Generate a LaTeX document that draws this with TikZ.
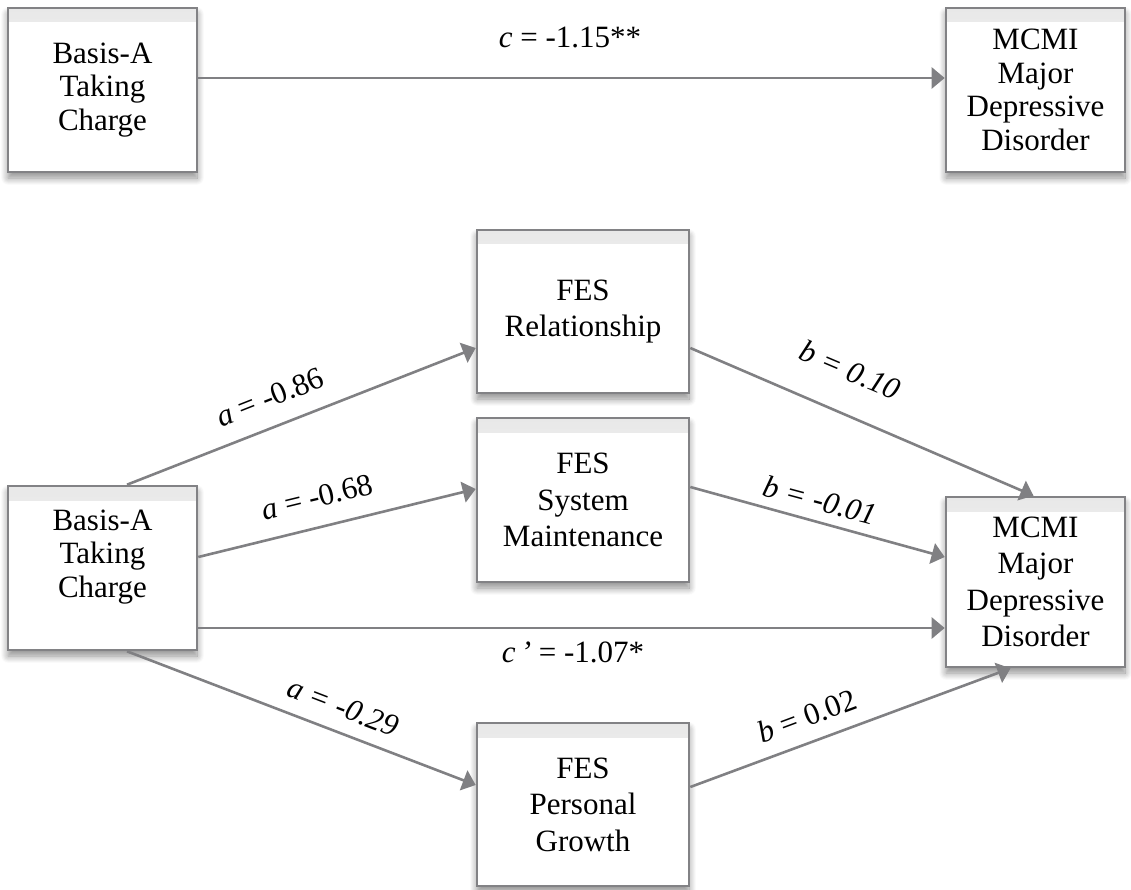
\documentclass[tikz,border=0pt]{standalone}
\usepackage{fontspec}
\setmainfont{Liberation Serif}
\usetikzlibrary{arrows.meta,shadows.blur}
\definecolor{boxgray}{RGB}{130,130,133}
\definecolor{arrgray}{RGB}{128,128,131}
\begin{document}
\begin{tikzpicture}[x=1pt,y=-1pt,
  fbox/.style={draw=boxgray, line width=2.6pt, fill=white, align=center,
    blur shadow={shadow xshift=0pt, shadow yshift=-6pt, shadow blur radius=7pt, shadow opacity=45, shadow blur steps=10},
    path picture={\fill[top color=black!9, bottom color=white]
      (path picture bounding box.north west) rectangle ([yshift=-14pt]path picture bounding box.north east);}},
  topfont/.style={font=\fontsize{31}{33.5}\selectfont},
  lowfont/.style={font=\fontsize{31}{36.5}\selectfont},
  arr/.style={draw=arrgray, line width=2.6pt, -{Triangle[length=13pt,width=21pt]}},
  lbl/.style={font=\fontsize{31}{36}\selectfont, inner sep=0pt}]
\useasboundingbox (0,0) rectangle (1131,890);

% top model
\node[fbox, topfont, minimum width=189pt, minimum height=164pt] (tl) at (102.5,90) {Basis-A\\Taking\\Charge};
\node[fbox, topfont, minimum width=179pt, minimum height=164pt] (tr) at (1035.5,90) {MCMI\\Major\\Depressive\\Disorder};

% bottom model
\node[fbox, minimum width=189pt, minimum height=164pt] (bl) at (102.5,568) {};
\node[topfont, align=center] (blt) at ([yshift=11pt]bl.center) {Basis-A\\Taking\\Charge};
\node[fbox, lowfont, minimum width=212pt, minimum height=163pt] (rel) at (583,311.5) {FES\\Relationship};
\node[fbox, lowfont, minimum width=212pt, minimum height=164pt] (sys) at (583,500) {FES\\System\\Maintenance};
\node[fbox, lowfont, minimum width=212pt, minimum height=163pt] (pg) at (583,804.5) {FES\\Personal\\Growth};
\node[fbox, lowfont, minimum width=179pt, minimum height=170pt] (br) at (1035.5,582) {MCMI\\Major\\Depressive\\Disorder};

% connectors
\draw[arr] ([yshift=12pt]tl.east) -- ([yshift=12pt]tr.west);
\draw[arr] ([xshift=24.5pt]bl.north) -- ([yshift=-36.5pt]rel.west);
\draw[arr] ([yshift=-36.5pt]rel.east) -- ([xshift=-2pt]br.north);
\draw[arr] ([yshift=11pt]bl.east) -- ([yshift=11pt]sys.west);
\draw[arr] ([yshift=13pt]sys.east) -- ([yshift=25pt]br.west);
\draw[arr] ([yshift=-60pt]bl.east) -- ([yshift=-46pt]br.west);
\draw[arr] ([xshift=24.5pt]bl.south) -- ([yshift=19.5pt]pg.west);
\draw[arr] ([yshift=17.5pt]pg.east) -- ([xshift=-25pt]br.south);

% labels
\node[lbl] (lc) at (570,37) {\textit{c} = -1.15**};
\node[lbl, rotate=21.5] (la1) at (270,397) {\textit{a} = -0.86};
\node[lbl, rotate=-23] (lb1) at (850,370) {\itshape b = 0.10};
\node[lbl, rotate=13.7] (la2) at (317,497) {\textit{a} = -0.68};
\node[lbl, rotate=-15] (lb2) at (820,500) {\itshape b = -0.01};
\node[lbl] (lcp) at (573,652) {\textit{c\,’} = -1.07*};
\node[lbl, rotate=-21] (la3) at (343,707) {\itshape a = -0.29};
\node[lbl, rotate=20.5] (lb3) at (807,716) {\textit{b} = 0.02};
\end{tikzpicture}
\end{document}
